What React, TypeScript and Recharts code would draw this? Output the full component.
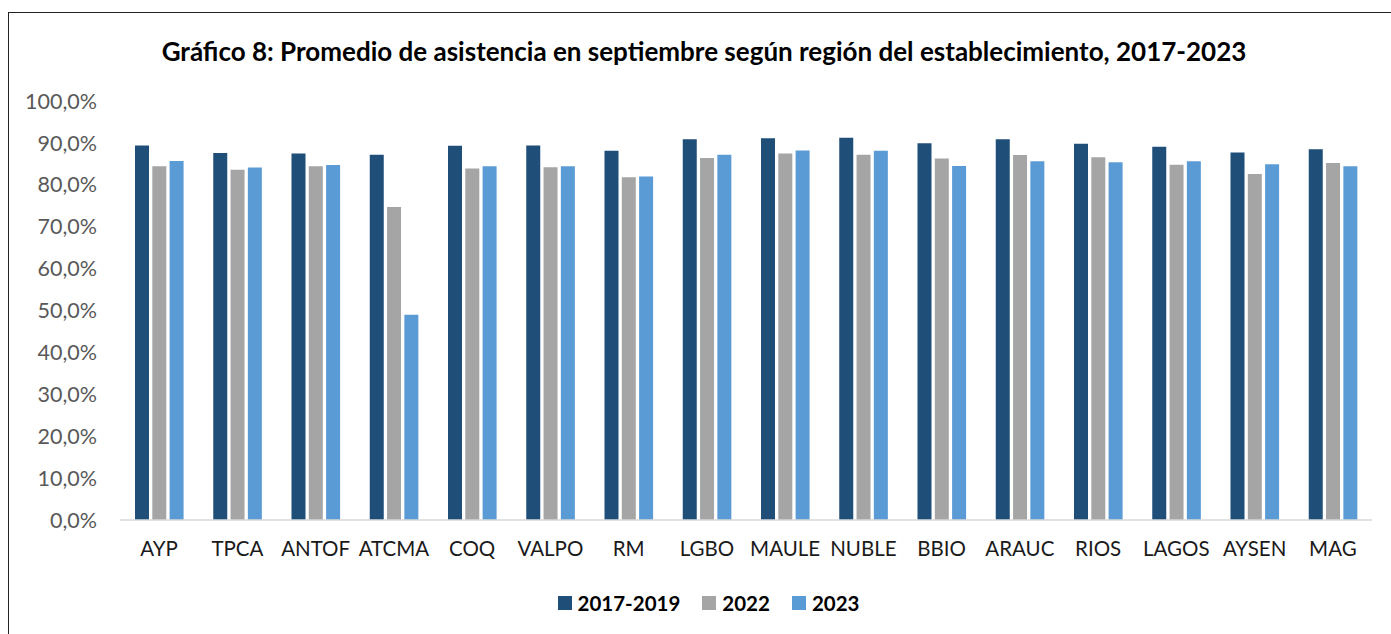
import React from "react";
import { Bar, BarChart, XAxis, YAxis } from "recharts";

const regions = [
  "AYP", "TPCA", "ANTOF", "ATCMA", "COQ", "VALPO", "RM", "LGBO",
  "MAULE", "NUBLE", "BBIO", "ARAUC", "RIOS", "LAGOS", "AYSEN", "MAG",
];

// promedio de asistencia (%) por periodo
const base1719 = [89.4, 87.6, 87.5, 87.2, 89.3, 89.4, 88.1, 90.9, 91.1, 91.2, 89.9, 90.9, 89.8, 89.1, 87.7, 88.5];
const y2022 = [84.4, 83.6, 84.4, 74.7, 83.9, 84.2, 81.8, 86.4, 87.5, 87.2, 86.3, 87.1, 86.6, 84.8, 82.6, 85.2];
const y2023 = [85.7, 84.1, 84.7, 49.0, 84.4, 84.4, 82.0, 87.2, 88.2, 88.1, 84.5, 85.6, 85.4, 85.6, 84.9, 84.4];

const yTicks = [0, 10, 20, 30, 40, 50, 60, 70, 80, 90, 100];

const series = [
  { key: "p1719", name: "2017-2019", color: "#1F4E79" },
  { key: "p2022", name: "2022", color: "#A5A5A5" },
  { key: "p2023", name: "2023", color: "#5B9BD5" },
];

const data = regions.map((r, i) => ({
  region: r,
  p1719: base1719[i],
  p2022: y2022[i],
  p2023: y2023[i],
}));

const FONT = "Lato, 'Open Sans', sans-serif";

const fmtPct = (v: number) => `${v.toFixed(1).replace(".", ",")}%`;

function LegendBox() {
  return (
    <div
      style={{
        position: "absolute",
        top: 578,
        left: 0,
        width: 1382,
        display: "flex",
        justifyContent: "center",
        alignItems: "center",
        paddingLeft: 17,
        boxSizing: "border-box",
        fontFamily: FONT,
        fontWeight: 700,
        fontSize: 20.5,
        color: "#000",
      }}
    >
      {series.map((s, i) => (
        <div
          key={s.key}
          style={{ display: "flex", alignItems: "center", marginLeft: i === 0 ? 0 : 22 }}
        >
          <span style={{ width: 14, height: 14, background: s.color, marginRight: 6 }} />
          <span>{s.name}</span>
        </div>
      ))}
    </div>
  );
}

export default function App() {
  return (
    <div
      style={{
        position: "absolute",
        left: 8,
        top: 12,
        width: 1383,
        height: 622,
        boxSizing: "border-box",
        borderTop: "1px solid #222",
        borderLeft: "1px solid #222",
        background: "#fff",
      }}
    >
      <div
        style={{
          position: "absolute",
          top: 22,
          left: 0,
          width: 1390,
          textAlign: "center",
          fontFamily: FONT,
          fontWeight: 700,
          fontSize: 26,
          color: "#000",
          whiteSpace: "nowrap",
        }}
      >
        Gráfico 8: Promedio de asistencia en septiembre según región del establecimiento, 2017-2023
      </div>
      <BarChart
        width={1382}
        height={621}
        data={data}
        margin={{ top: 88, right: 19, bottom: 0, left: 0 }}
        barSize={14}
        barGap={3.3}
      >
        <XAxis
          dataKey="region"
          axisLine={{ stroke: "#D9D9D9", strokeWidth: 1.5 }}
          tickLine={false}
          tickMargin={15}
          height={114}
          tick={{ fill: "#1a1a1a", fontSize: 20.5, fontFamily: FONT }}
          interval={0}
        />
        <YAxis
          domain={[0, 100]}
          ticks={yTicks}
          tickFormatter={fmtPct}
          axisLine={false}
          tickLine={false}
          tickMargin={17}
          width={111}
          tick={{ fill: "#595959", fontSize: 21.5, fontFamily: FONT }}
        />
        {series.map((s) => (
          <Bar
            key={s.key}
            dataKey={s.key}
            name={s.name}
            fill={s.color}
            isAnimationActive={false}
          />
        ))}
      </BarChart>
      <LegendBox />
    </div>
  );
}
